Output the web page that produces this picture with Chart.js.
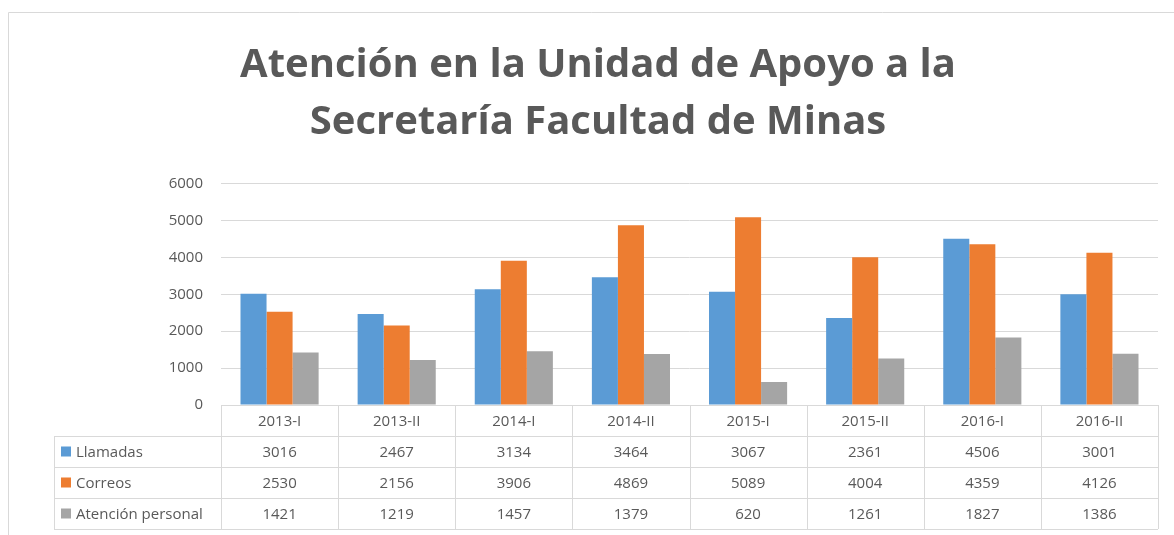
<!DOCTYPE html>
<html>
<head>
<meta charset="utf-8">
<script src="https://cdn.jsdelivr.net/npm/chart.js@4"></script>
<style>
    html, body { margin: 0; padding: 0; background: #fff; }
    #wrap { width: 1174px; height: 535px; }
</style>
</head>
<body>
<div id="wrap"><canvas id="mainChart" width="1174" height="535"></canvas></div>
<script>
// ===== ДАННЫЕ =====
const periods = ["2013-I", "2013-II", "2014-I", "2014-II", "2015-I", "2015-II", "2016-I", "2016-II"];
const llamadas = [3016, 2467, 3134, 3464, 3067, 2361, 4506, 3001];
const correos = [2530, 2156, 3906, 4869, 5089, 4004, 4359, 4126];
const atencionPersonal = [1421, 1219, 1457, 1379, 620, 1261, 1827, 1386];
const seriesNames = ["Llamadas", "Correos", "Atención personal"];
const seriesColors = ["#5B9BD5", "#ED7D31", "#A5A5A5"];
const titleLines = ["Atención en la Unidad de Apoyo a la", "Secretaría Facultad de Minas"];

document.addEventListener("DOMContentLoaded", function () {

    const canvas = document.getElementById("mainChart");
    const textColor = "#595959";
    const lineColor = "#D9D9D9";
    const font = "\"Open Sans\", \"Liberation Sans\", sans-serif";
    const seriesData = [llamadas, correos, atencionPersonal];

    // ===== ТАБЛИЦА ДАННЫХ ПОД ГРАФИКОМ =====
    const dataTable = {
        id: "dataTable",
        afterDraw(chart) {
            const ctx = chart.ctx;
            const x = chart.scales.x;
            const area = chart.chartArea;
            const rowH = 31;
            const legendLeft = 54;
            const top = area.bottom;
            const half = (x.getPixelForTick(1) - x.getPixelForTick(0)) / 2;

            ctx.save();
            ctx.strokeStyle = lineColor;
            ctx.lineWidth = 1;

            // horizontal lines
            ctx.beginPath();
            ctx.moveTo(area.left, top + 0.5);
            ctx.lineTo(area.right, top + 0.5);
            for (let r = 1; r <= 4; r++) {
                const y = Math.round(top + r * rowH) + 0.5;
                ctx.moveTo(legendLeft, y);
                ctx.lineTo(area.right, y);
            }
            // vertical lines
            ctx.moveTo(legendLeft + 0.5, top + rowH);
            ctx.lineTo(legendLeft + 0.5, top + 4 * rowH);
            for (let i = 0; i <= periods.length; i++) {
                const vx = Math.round(x.getPixelForTick(0) - half + i * half * 2) + 0.5;
                ctx.moveTo(vx, top);
                ctx.lineTo(vx, top + 4 * rowH);
            }
            ctx.stroke();

            ctx.fillStyle = textColor;
            ctx.font = "15px " + font;
            ctx.textBaseline = "middle";
            ctx.textAlign = "center";
            periods.forEach((p, i) => {
                ctx.fillText(p, x.getPixelForTick(i), top + rowH / 2 + 1);
            });

            seriesData.forEach((vals, s) => {
                const cy = top + (s + 1) * rowH + rowH / 2 + 1;
                ctx.textAlign = "center";
                ctx.fillStyle = textColor;
                vals.forEach((v, i) => {
                    ctx.fillText(String(v), x.getPixelForTick(i), cy);
                });
                ctx.fillStyle = seriesColors[s];
                ctx.fillRect(legendLeft + 7, cy - 6, 10, 10);
                ctx.fillStyle = textColor;
                ctx.textAlign = "left";
                ctx.fillText(seriesNames[s], legendLeft + 22, cy);
            });

            // рамка графика
            ctx.beginPath();
            ctx.moveTo(8.5, chart.height);
            ctx.lineTo(8.5, 12.5);
            ctx.lineTo(chart.width, 12.5);
            ctx.stroke();
            ctx.restore();
        }
    };

    new Chart(canvas, {
        type: "bar",
        data: {
            labels: periods,
            datasets: seriesData.map((vals, s) => ({
                label: seriesNames[s],
                data: vals,
                backgroundColor: seriesColors[s],
                borderWidth: 0,
                barPercentage: 1,
                categoryPercentage: 0.667
            }))
        },
        options: {
            responsive: false,
            animation: false,
            layout: {
                padding: { left: 38, right: 16, top: 0, bottom: 130 }
            },
            plugins: {
                legend: { display: false },
                tooltip: { enabled: false },
                title: {
                    display: true,
                    text: titleLines,
                    color: textColor,
                    font: { family: font, size: 40, weight: "bold", lineHeight: 1.42 },
                    padding: { top: 37, bottom: 33 }
                }
            },
            scales: {
                x: {
                    display: false,
                    grid: { display: false }
                },
                y: {
                    min: 0,
                    max: 6000,
                    ticks: {
                        stepSize: 1000,
                        color: textColor,
                        padding: 18,
                        font: { family: font, size: 15 },
                        callback: (v) => String(v)
                    },
                    grid: { color: lineColor, drawTicks: false },
                    border: { display: false },
                    afterFit(scale) { scale.width = 183; }
                }
            }
        },
        plugins: [dataTable]
    });
});
</script>
</body>
</html>
